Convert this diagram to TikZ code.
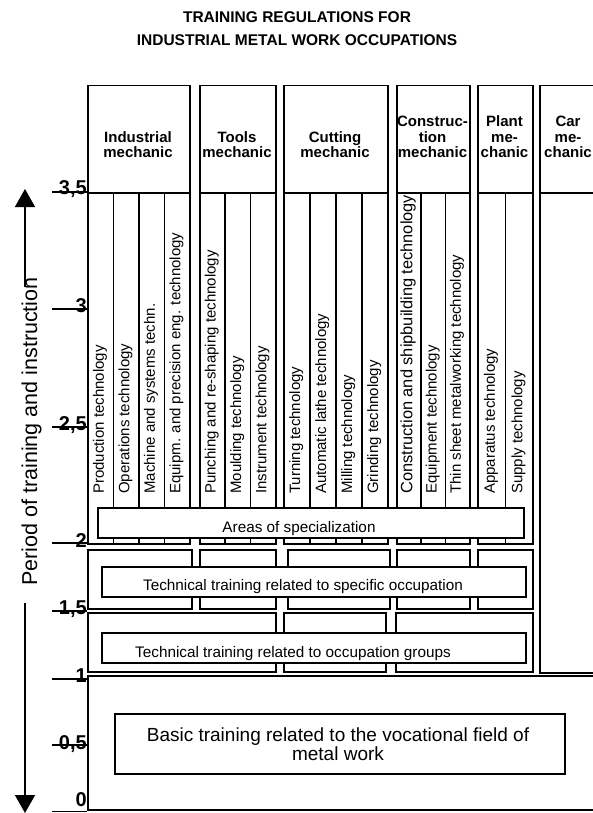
\documentclass[tikz,border=0pt]{standalone}
\usepackage{fontspec}
\setmainfont{Liberation Sans}
\usetikzlibrary{arrows.meta}
\newcommand\boxat[5]{\node[box, minimum width={(#4)-(#2)}, minimum height={(#5)-(#3)}] (#1) at (#2,#3) {};}
\begin{document}
\begin{tikzpicture}[x=1pt,y=-1pt,
  box/.style={draw, line width=1.5pt, fill=white, inner sep=0pt, anchor=north west},
  coltext/.style={rotate=90, anchor=base west, inner sep=0pt, font=\fontsize{15}{16}\selectfont},
  headtext/.style={anchor=south, inner sep=0pt, align=center, font=\bfseries\fontsize{15}{15.5}\selectfont},
  rowtext/.style={anchor=base, inner sep=0pt, font=\fontsize{15.3}{16}\selectfont},
  ticklab/.style={anchor=base east, inner sep=0pt, font=\bfseries\fontsize{20}{20}\selectfont},
  tick/.style={line width=1.5pt},
  axarrow/.style={line width=1.5pt, -{Triangle[width=20pt,length=18pt]}}
]
\clip (0,0) rectangle (593,813);
\fill[white] (0,0) rectangle (593,813);

% title
\node[align=center, inner sep=0pt, font=\bfseries\fontsize{15.5}{23}\selectfont] (title) at (297,29) {TRAINING REGULATIONS FOR\\INDUSTRIAL METAL WORK OCCUPATIONS};

% header boxes
\boxat{hind}{87}{85}{189}{192}
\boxat{htool}{199}{85}{275}{192}
\boxat{hcut}{283}{85}{387}{192}
\boxat{hcon}{396}{85}{469}{192}
\boxat{hpla}{477}{85}{532}{192}
\boxat{hcar}{539}{85}{598}{192}
\node[headtext] (tind) at (138,158) {Industrial\\mechanic};
\node[headtext] (ttool) at (237,158) {Tools\\mechanic};
\node[headtext] (tcut) at (335,158) {Cutting\\mechanic};
\node[headtext] (tcon) at (432.5,158) {Construc-\\tion\\mechanic};
\node[headtext] (tpla) at (504.5,158) {Plant\\me-\\chanic};
\node[headtext] (tcar) at (568,158) {Car\\me-\\chanic};

% car lower box
\boxat{carlow}{539}{192}{598}{672}

% columns
\foreach \t [count=\i from 0] in {Production technology,Operations technology,Machine and systems techn.,Equipm. and precision eng. technology}{
  \node[box, minimum width=25.5, minimum height=351] (cind\i) at ({87+\i*25.5},192) {};
  \node[coltext] (xind\i) at ({87+\i*25.5+12.75+4},494) {\t};
}
\foreach \t [count=\i from 0] in {Punching and re-shaping technology,Moulding technology,Instrument technology}{
  \node[box, minimum width=25.333, minimum height=351] (ctool\i) at ({199+\i*25.333},192) {};
  \node[coltext] (xtool\i) at ({199+\i*25.333+12.67+4},494) {\t};
}
\foreach \t [count=\i from 0] in {Turning technology,Automatic lathe technology,Milling technology,Grinding technology}{
  \node[box, minimum width=26, minimum height=351] (ccut\i) at ({283+\i*26},192) {};
  \node[coltext] (xcut\i) at ({283+\i*26+13+4},494) {\t};
}
\foreach \t [count=\i from 0] in {Construction and shipbuilding technology,Equipment technology,Thin sheet metalworking technology}{
  \node[box, minimum width=24.333, minimum height=351] (ccon\i) at ({396+\i*24.333},192) {};
}
\node[coltext, font=\fontsize{16.4}{17}\selectfont] (xcon0) at ({396+12.17+4.3},494) {Construction and shipbuilding technology};
\node[coltext] (xcon1) at ({396+24.333+12.17+4},494) {Equipment technology};
\node[coltext] (xcon2) at ({396+2*24.333+12.17+4},494) {Thin sheet metalworking technology};
\foreach \t [count=\i from 0] in {Apparatus technology,Supply technology}{
  \node[box, minimum width=27.5, minimum height=351] (cpla\i) at ({477+\i*27.5},192) {};
  \node[coltext] (xpla\i) at ({477+\i*27.5+13.75+4},494) {\t};
}

% areas of specialization
\boxat{areas}{97}{507}{523}{537}
\node[rowtext] (tareas) at (299,532) {Areas of specialization};

% specific occupation row
\boxat{sind}{87}{549}{191}{608}
\boxat{stool}{199}{549}{275}{608}
\boxat{scut}{287}{549}{389}{608}
\boxat{scon}{396}{549}{469}{608}
\boxat{spla}{477}{549}{532}{608}
\boxat{spec}{101}{566}{525}{596}
\node[rowtext] (tspec) at (303,590) {Technical training related to specific occupation};

% occupation groups row
\boxat{g1}{87}{612}{275}{671}
\boxat{g2}{283}{612}{385}{671}
\boxat{g3}{395}{612}{532}{671}
\boxat{grp}{101}{632}{525}{662}
\node[rowtext] (tgrp) at (293,657) {Technical training related to occupation groups};

% basic training
\boxat{base}{87}{675}{598}{809}
\boxat{basein}{114}{713}{564}{773}
\node[anchor=south, inner sep=0pt, align=center, font=\fontsize{19}{17.5}\selectfont] (tbase) at (338,761) {Basic training related to the vocational field of\\metal work};

% axis ticks
\draw[tick] (52,192) -- (87,192);
\draw[tick] (52,309) -- (87,309);
\draw[tick] (52,427) -- (87,427);
\draw[tick] (52,543) -- (87,543);
\draw[tick] (52,611) -- (87,611);
\draw[tick] (52,679) -- (87,679);
\draw[tick] (52,745) -- (87,745);
\draw[tick] (52,811.5) -- (87,811.5);
\node[ticklab] (l35) at (87,194) {3,5};
\node[ticklab] (l3) at (87,312) {3};
\node[ticklab] (l25) at (87,430) {2,5};
\node[ticklab] (l2) at (87,547) {2};
\node[ticklab] (l15) at (87,614) {1,5};
\node[ticklab] (l1) at (87,682) {1};
\node[ticklab] (l05) at (87,749) {0,5};
\node[ticklab] (l0) at (87,806) {0};

% period axis
\node[rotate=90, anchor=base, inner sep=0pt, font=\fontsize{21.5}{24}\selectfont] (period) at (37,431.5) {Period of training and instruction};
\coordinate (upS) at (25,287);
\coordinate (upE) at (25,189);
\coordinate (dnS) at (25,603);
\coordinate (dnE) at (25,813);
\draw[axarrow] (upS) -- (upE);
\draw[axarrow] (dnS) -- (dnE);
\end{tikzpicture}
\end{document}
